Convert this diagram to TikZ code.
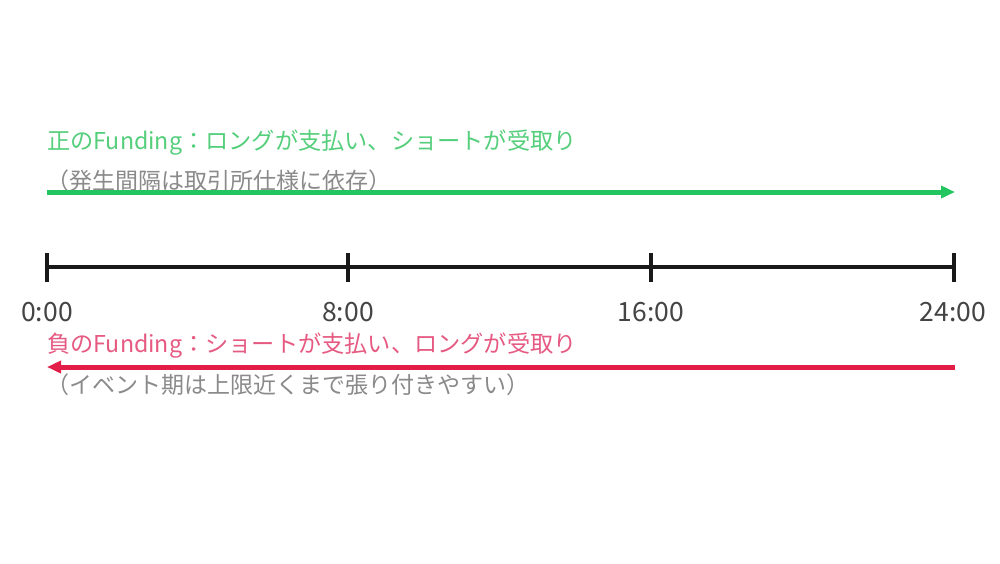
\documentclass[tikz,border=0pt]{standalone}
\usepackage{fontspec}
\setmainfont{Noto Sans CJK JP}
\usetikzlibrary{arrows.meta}
\definecolor{posgreen}{HTML}{22C55E}
\definecolor{posgreentext}{HTML}{55CF7C}
\definecolor{negred}{HTML}{E11D48}
\definecolor{negredtext}{HTML}{E65A82}
\definecolor{subgray}{HTML}{8A8A8A}
\definecolor{ticklabel}{HTML}{444444}
\begin{document}
\begin{tikzpicture}[x=1pt,y=-1pt,
  titletext/.style={anchor=west,inner sep=0pt,font=\fontsize{23.2}{27}\selectfont},
  subtext/.style={anchor=west,inner sep=0pt,text=subgray,font=\fontsize{23}{27}\selectfont},
  ticklbl/.style={anchor=center,inner sep=0pt,text=ticklabel,font=\fontsize{26.5}{30}\selectfont},
  axisline/.style={line width=4pt,black!90},
  tickmark/.style={line width=4pt,black!90},
  flowarrow/.style={line width=5pt,-{Triangle[length=14pt,width=12pt]}}]
\useasboundingbox[fill=white] (0,0) rectangle (1000,563);
% positive funding
\node[titletext,text=posgreentext] (postitle) at (47,143) {正のFunding：ロングが支払い、ショートが受取り};
\node[subtext] (possub) at (46,181) {（発生間隔は取引所仕様に依存）};
\coordinate (gs) at (47,192);
\coordinate (ge) at (955,192);
\draw[flowarrow,posgreen] (gs) -- (ge);
% axis
\coordinate (t0) at (47,267);
\coordinate (t8) at (348,267);
\coordinate (t16) at (651,267);
\coordinate (t24) at (954,267);
\draw[axisline] (t0) -- (t24);
\foreach \t in {t0,t8,t16,t24}{
  \draw[tickmark] ([yshift=14pt]\t) -- ([yshift=-15pt]\t);
}
\node[ticklbl] (l0) at (47,312) {0:00};
\node[ticklbl] (l8) at (348,312) {8:00};
\node[ticklbl] (l16) at (651,312) {16:00};
\node[ticklbl] (l24) at (953,312) {24:00};
% negative funding
\node[titletext,text=negredtext] (negtitle) at (47,346) {負のFunding：ショートが支払い、ロングが受取り};
\coordinate (rs) at (955,367);
\coordinate (re) at (47,367);
\draw[flowarrow,negred] (rs) -- (re);
\node[subtext] (negsub) at (46,385) {（イベント期は上限近くまで張り付きやすい）};
\end{tikzpicture}
\end{document}
